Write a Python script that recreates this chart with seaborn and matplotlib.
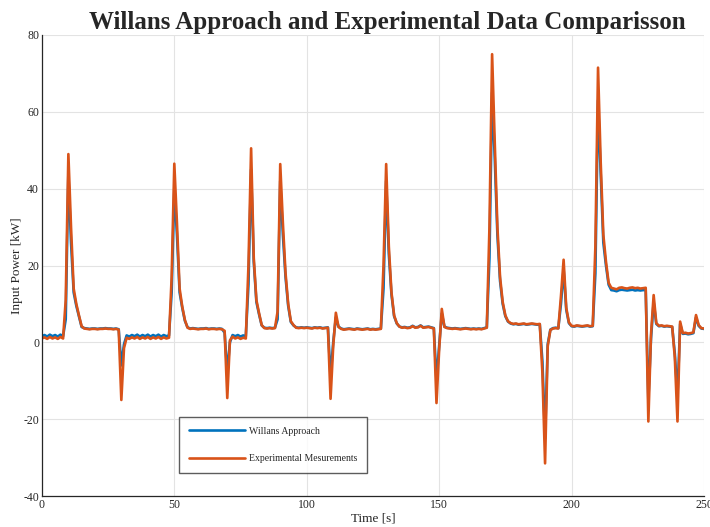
import numpy as np
import pandas as pd
import matplotlib
matplotlib.use("Agg")
import matplotlib.pyplot as plt
import seaborn as sns

time_s = list(range(0, 251))

experimental_kw = [
    1.0, 1.3, 0.9, 1.4, 1.0, 1.3, 0.9, 1.4, 1.0, 11.0,
    49.0, 30.0, 14.0, 10.0, 7.0, 4.2, 3.6, 3.5, 3.4, 3.5,
    3.5, 3.4, 3.5, 3.5, 3.6, 3.5, 3.5, 3.4, 3.5, 3.3,
    -15.0, -1.5, 1.2, 0.9, 1.3, 1.0, 1.4, 0.9, 1.3, 1.0,
    1.4, 0.9, 1.3, 1.0, 1.4, 0.9, 1.3, 1.0, 1.2, 17.0,
    46.5, 31.0, 14.0, 9.3, 5.8, 3.8, 3.5, 3.6, 3.5, 3.4,
    3.5, 3.5, 3.6, 3.4, 3.5, 3.5, 3.4, 3.5, 3.4, 3.0,
    -14.5, 0.5, 1.5, 1.0, 1.3, 0.9, 1.2, 1.0, 20.0, 50.5,
    22.0, 11.0, 7.6, 4.5, 3.7, 3.6, 3.7, 3.6, 3.7, 8.0,
    46.4, 31.0, 18.0, 10.0, 5.5, 4.5, 3.8, 3.7, 3.8, 3.7,
    3.8, 3.7, 3.6, 3.8, 3.7, 3.8, 3.6, 3.7, 3.8, -14.7,
    -1.0, 7.7, 4.0, 3.5, 3.3, 3.4, 3.5, 3.4, 3.3, 3.5,
    3.4, 3.3, 3.4, 3.5, 3.3, 3.4, 3.3, 3.4, 3.5, 20.0,
    46.4, 25.0, 13.0, 7.0, 5.0, 4.1, 3.8, 3.9, 3.7, 3.8,
    4.2, 3.8, 3.9, 4.3, 3.8, 3.9, 4.0, 3.8, 3.6, -15.8,
    -2.0, 8.7, 4.0, 3.7, 3.6, 3.5, 3.6, 3.5, 3.4, 3.5,
    3.6, 3.5, 3.4, 3.5, 3.4, 3.5, 3.4, 3.6, 3.8, 30.0,
    75.0, 52.0, 30.0, 17.0, 10.5, 7.0, 5.5, 5.0, 4.8, 4.9,
    4.7, 4.8, 4.9, 4.7, 4.8, 4.9, 4.8, 4.7, 4.8, -8.0,
    -31.5, -1.0, 3.2, 3.6, 3.7, 3.6, 12.0, 21.5, 9.0, 5.2,
    4.3, 4.2, 4.4, 4.3, 4.2, 4.3, 4.4, 4.2, 4.3, 25.0,
    71.5, 47.0, 28.0, 21.0, 15.5, 14.2, 14.0, 13.8, 14.2, 14.3,
    14.1, 14.0, 14.2, 14.3, 14.1, 14.2, 14.0, 14.1, 14.2, -20.6,
    2.0, 12.3, 5.0, 4.3, 4.4, 4.2, 4.3, 4.2, 4.1, -4.0,
    -20.6, 5.4, 2.4, 2.5, 2.3, 2.4, 2.6, 7.1, 4.5, 3.7, 3.6,
]

willans_kw = [
    1.6, 1.9, 1.5, 2.0, 1.6, 1.9, 1.5, 2.0, 1.6, 6.0,
    44.0, 26.0, 13.0, 9.5, 6.8, 4.0, 3.7, 3.6, 3.5, 3.6,
    3.6, 3.5, 3.6, 3.6, 3.7, 3.6, 3.6, 3.5, 3.6, 3.4,
    -6.0, -0.5, 1.8, 1.5, 1.9, 1.6, 2.0, 1.5, 1.9, 1.6,
    2.0, 1.5, 1.9, 1.6, 2.0, 1.5, 1.9, 1.6, 1.8, 13.0,
    40.0, 28.0, 13.0, 9.0, 5.6, 3.9, 3.6, 3.7, 3.6, 3.5,
    3.6, 3.6, 3.7, 3.5, 3.6, 3.6, 3.5, 3.6, 3.5, 2.5,
    -8.0, 0.0, 1.9, 1.6, 1.9, 1.5, 1.8, 1.6, 15.0, 45.0,
    21.0, 10.5, 7.3, 4.4, 3.8, 3.7, 3.8, 3.7, 3.8, 6.0,
    42.0, 28.0, 17.0, 9.5, 5.3, 4.4, 3.9, 3.8, 3.9, 3.8,
    3.9, 3.8, 3.7, 3.9, 3.8, 3.9, 3.7, 3.8, 3.9, -9.0,
    0.0, 6.5, 4.1, 3.6, 3.4, 3.5, 3.6, 3.5, 3.4, 3.6,
    3.5, 3.4, 3.5, 3.6, 3.4, 3.5, 3.4, 3.5, 3.6, 14.0,
    42.0, 23.0, 12.5, 6.8, 4.9, 4.1, 3.9, 4.0, 3.8, 3.9,
    4.3, 3.9, 4.0, 4.4, 3.9, 4.0, 4.1, 3.9, 3.7, -10.0,
    -1.0, 7.5, 4.1, 3.8, 3.7, 3.6, 3.7, 3.6, 3.5, 3.6,
    3.7, 3.6, 3.5, 3.6, 3.5, 3.6, 3.5, 3.7, 3.9, 22.0,
    65.0, 48.0, 28.0, 16.0, 10.0, 6.8, 5.4, 4.9, 4.7, 4.8,
    4.6, 4.7, 4.8, 4.6, 4.7, 4.8, 4.7, 4.6, 4.7, -5.0,
    -25.0, -0.5, 3.3, 3.7, 3.8, 3.7, 10.0, 19.0, 8.5, 5.0,
    4.2, 4.1, 4.3, 4.2, 4.1, 4.2, 4.3, 4.1, 4.2, 18.0,
    63.0, 44.0, 26.0, 20.0, 15.0, 13.6, 13.5, 13.3, 13.6, 13.7,
    13.6, 13.5, 13.6, 13.7, 13.5, 13.6, 13.5, 13.6, 13.6, -15.0,
    1.0, 10.5, 4.8, 4.2, 4.3, 4.1, 4.2, 4.1, 4.0, -3.0,
    -14.0, 4.8, 2.2, 2.3, 2.1, 2.2, 2.4, 6.5, 4.3, 3.6, 3.5,
]

series_labels = ["Willans Approach", "Experimental Mesurements"]
x_ticks = [0, 50, 100, 150, 200, 250]
y_ticks = [-40, -20, 0, 20, 40, 60, 80]

sns.set_style("white")
plt.rcParams["font.family"] = ["Liberation Serif", "DejaVu Serif"]
plt.rcParams["axes.unicode_minus"] = False

fig = plt.figure(figsize=(7.10, 5.27), dpi=100)
ax = fig.add_axes([0.059, 0.0588, 0.9325, 0.8748])

sns.lineplot(x=time_s, y=willans_kw, ax=ax, color="#0072BD", linewidth=1.9,
             label=series_labels[0])
sns.lineplot(x=time_s, y=experimental_kw, ax=ax, color="#D95319", linewidth=1.9,
             label=series_labels[1])

ax.set_xlim(0, 250)
ax.set_ylim(-40, 80)
ax.set_xticks(x_ticks)
ax.set_yticks(y_ticks)
ax.grid(True, color="#e3e3e3", linewidth=0.8)
ax.set_axisbelow(True)

for side in ["top", "right"]:
    ax.spines[side].set_visible(False)
for side in ["left", "bottom"]:
    ax.spines[side].set_color("#262626")
    ax.spines[side].set_linewidth(0.9)

ax.tick_params(axis="both", direction="in", length=5, width=0.8,
               colors="#262626", labelsize=8.5, pad=2)

ax.set_xlabel("Time [s]", fontsize=9.5, color="#262626", labelpad=1)
ax.set_ylabel("Input Power [kW]", fontsize=9.5, color="#262626", labelpad=0)

fig.text(0.546, 1 - 29 / 527, "Willans Approach and Experimental Data Comparisson",
         fontsize=18, fontweight="bold", ha="center", va="baseline")

leg = ax.legend(loc="lower left", bbox_to_anchor=(0.207, 0.05),
                fontsize=7.0, frameon=True, fancybox=False,
                handlelength=5.8, labelspacing=1.9, borderpad=1.0,
                handletextpad=0.4, borderaxespad=0)
leg.get_frame().set_edgecolor("#333333")
leg.get_frame().set_linewidth(1.0)
for t in leg.get_texts():
    t.set_color("#262626")

fig.savefig("out.png", dpi=100)
